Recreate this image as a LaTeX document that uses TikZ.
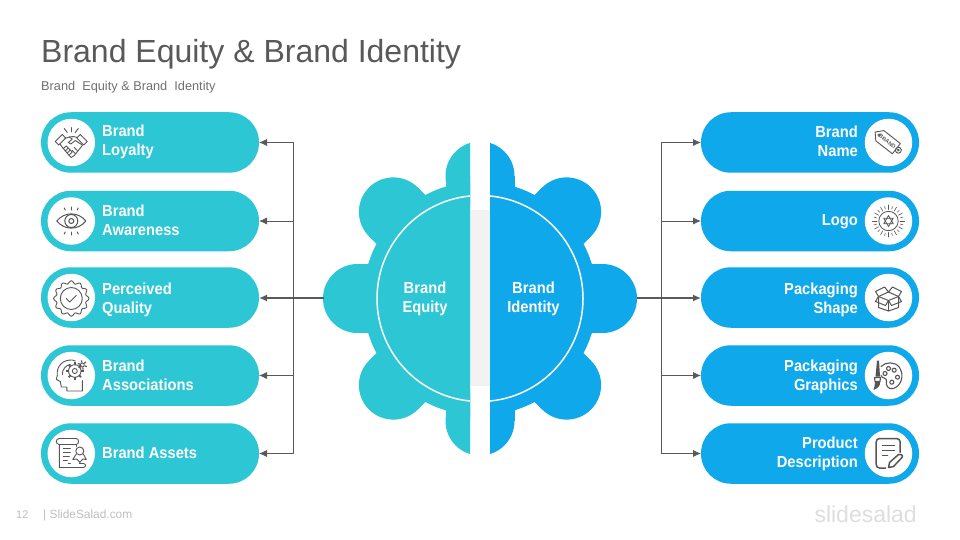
\documentclass[tikz,border=0pt]{standalone}
\usepackage{fontspec}
\setmainfont{Liberation Sans}
\newfontfamily\labfont{Liberation Sans}[FakeStretch=0.92]
\usetikzlibrary{arrows.meta}
\definecolor{teal1}{HTML}{2CC6D5}
\definecolor{blue1}{HTML}{0FA8EA}
\definecolor{ink}{HTML}{595959}
\definecolor{subink}{HTML}{707070}
\definecolor{icon}{HTML}{555555}
\definecolor{foot}{HTML}{BFBFBF}
\definecolor{logo}{HTML}{DEDEDE}
\tikzset{
  x=1pt,y=-1pt,
  pill/.style={rounded corners=30pt,minimum width=218pt,minimum height=60.5pt,inner sep=0pt,outer sep=0pt},
  tealpill/.style={pill,fill=teal1},
  bluepill/.style={pill,fill=blue1},
  disc/.style={circle,fill=white,minimum size=47.5pt,inner sep=0pt},
  lab/.style={text=white,font=\labfont\fontsize{16}{19}\selectfont\bfseries,inner sep=0pt},
  llab/.style={lab,anchor=west,align=left},
  rlab/.style={lab,anchor=east,align=right},
  clab/.style={lab,align=center},
  conn/.style={draw=ink,line width=.8pt},
  arr/.style={conn,-{Latex[length=8pt,width=7pt]}},
  ic/.style={draw=icon,line width=.9pt,line join=round,line cap=round,fill=none},
}
\newcommand{\gearshape}{%
  \fill (480,298.5) circle[radius=117];
  \foreach \a in {0,45,...,315}{
    \begin{scope}[shift={(480,298.5)},rotate=\a]
      \fill (122.5,0) circle[radius=34.5];
      \fill (95,-34.5) rectangle (122.5,34.5);
    \end{scope}}%
}
\begin{document}
\begin{tikzpicture}
\useasboundingbox (0,0) rectangle (960,540);
\fill[white] (0,0) rectangle (960,540);
% header
\node[anchor=base west,inner sep=0pt,text=ink,font=\fontsize{32}{36}\selectfont] (title) at (41,62.5) {Brand Equity \& Brand Identity};
\node[anchor=base west,inner sep=0pt,text=subink,font=\fontsize{12.75}{14}\selectfont] (sub) at (41,91) {Brand\ \ Equity \&\ Brand\ \ Identity};
% centre panel
\fill[black!5] (470,210) rectangle (490,386);
% gear
\begin{scope}
  \clip (300,120) rectangle (470,480);
  \begin{scope}[teal1,fill=teal1]\gearshape\end{scope}
  \draw[white,line width=1.5pt] (480,298.5) circle[radius=103];
\end{scope}
\begin{scope}
  \clip (490,120) rectangle (660,480);
  \begin{scope}[blue1,fill=blue1]\gearshape\end{scope}
  \draw[white,line width=1.5pt] (480,298.5) circle[radius=103];
\end{scope}
\coordinate (gl) at (323.5,298);
\coordinate (gr) at (636.5,298);
\coordinate (bl) at (293.5,298);
\coordinate (br) at (661,298);
\node[clab] (eq) at (425,298.4) {Brand\\Equity};
\node[clab] (id) at (533.5,298.4) {Brand\\Identity};
% pills
\foreach \n/\y in {1/142.5,2/221,3/297.5,4/375.5,5/453.5}{
  \node[tealpill] (L\n) at (150,\y) {};
  \node[bluepill] (R\n) at (810,\y) {};
  \node[disc] (LD\n) at (71.3,\y) {};
  \node[disc] (RD\n) at (888.5,\y) {};
}
% connectors
\draw[conn] (bl |- L1) -- (bl |- L5);
\draw[conn] (br |- R1) -- (br |- R5);
\foreach \n in {1,2,4,5}{
  \draw[arr] (bl |- L\n) -- (L\n.east);
  \draw[arr] (br |- R\n) -- (R\n.west);
}
\draw[arr,line width=1.5pt] (gl) -- (gl -| L3.east);
\draw[arr,line width=1.5pt] (gr) -- (gr -| R3.west);
% labels
\node[llab] (t1) at (102,142.3) {Brand\\Loyalty};
\node[llab] (t2) at (102,220.5) {Brand\\Awareness};
\node[llab] (t3) at (102,299.7) {Perceived\\Quality};
\node[llab] (t4) at (102,375.5) {Brand\\Associations};
\node[llab] (t5) at (102,452.7) {Brand Assets};
\node[rlab] (u1) at (858,141) {Brand\\Name};
\node[rlab] (u2) at (858,221.5) {Logo};
\node[rlab] (u3) at (858,300) {Packaging\\Shape};
\node[rlab] (u4) at (858,376.5) {Packaging\\Graphics};
\node[rlab] (u5) at (858,453.5) {Product\\Description};
% icon 1: handshake
\begin{scope}[shift={(71.3,142.5)},ic]
  \draw (-16,-1) -- (-9,-8) -- (-5.5,-4.5) -- (-12.5,2.5) -- cycle;
  \draw (16,-1) -- (9,-8) -- (5.5,-4.5) -- (12.5,2.5) -- cycle;
  \draw (-6.5,-4) -- (-2,-5.5) -- (1,-3.5) -- (-3,0) -- (-.5,1.5) -- (4,-2) -- (11,2.5);
  \draw (6,-5) -- (2,-6) -- (-2,-5.5);
  \draw (-11,2) -- (-8,6) -- (-3,12) -- (0,15) -- (3,13) -- (11,3);
  \draw (-8,6) -- (-5,3.5) -- (-3,5.5) -- (-6,8.5);
  \draw (-3,5.5) -- (-1,7.5) -- (-4,10.5);
  \draw (-1,7.5) -- (1,9.5) -- (-2,12.5);
  \draw (3,5) -- (6,8);\draw (1,8) -- (4,11);
  \draw (0,-15) -- (0,-10.5);
  \draw (-7,-14) -- (-4,-10);\draw (7,-14) -- (4,-10);
\end{scope}
% icon 2: eye
\begin{scope}[shift={(71.3,221)},ic,line width=1pt]
  \draw (-14.5,0) .. controls (-7,-9.5) and (7,-9.5) .. (14.5,0) .. controls (7,9.5) and (-7,9.5) .. (-14.5,0) -- cycle;
  \draw (0,0) circle[radius=6.5];
  \draw (0,0) circle[radius=2.5];
  \foreach \a/\b/\c/\d in {0/-14/0/-11,-7/-13/-6/-11,7/-13/6/-11,0/14/0/11,-7/13/-6/11,7/13/6/11}{\draw (\a,\b) -- (\c,\d);}
\end{scope}
% icon 3: quality badge
\begin{scope}[shift={(71.3,298.5)},ic]
  \draw plot[domain=0:360,samples=97,smooth] ({(16.3+1.4*cos(12*\x))*cos(\x)},{(16.3+1.4*cos(12*\x))*sin(\x)}) -- cycle;
  \draw (0,0) circle[radius=11];
  \draw (-5,0) -- (-1.5,3.5) -- (5,-3);
\end{scope}
% icon 4: head with gear
\begin{scope}[shift={(71.3,375.5)},ic]
  \draw (11,5) -- (11,15.5) -- (-4.5,15.5) -- (-4.5,11.5) -- (-10,11.5) -- (-11,6) -- (-15,4) -- (-14,0) .. controls (-15,-10) and (-8,-16) .. (1,-15.5) -- (4,-14.5);
  \draw (-1,-11) .. controls (-6,-10) and (-9,-6) .. (-9,-1);
  \draw (3.5,-4.5) circle[radius=2.5];
  \draw (3.5,-4.5) circle[radius=6.3];
  \foreach \a in {0,45,...,315}{\draw[line width=1.8pt,line cap=butt] (3.5,-4.5) ++(\a:6.3) -- ++(\a:2.5);}
  \draw (11,-10.5) circle[radius=2];
  \foreach \a in {20,80,140,200,260,320}{\draw[line width=1.2pt,line cap=butt] (11,-10.5) ++(\a:2.5) -- ++(\a:2.2);}
\end{scope}
% icon 5: scroll with ribbon
\begin{scope}[shift={(71.3,453.5)},ic]
  \draw (-12,-15) -- (5,-15) .. controls (8,-15) and (8,-9) .. (5,-9) -- (-12,-9);
  \draw (-12,-15) .. controls (-16,-15) and (-16,-9) .. (-12,-9) -- (-12,14) -- (12,14);
  \draw (5,-9) -- (5,-7);
  \draw (12,14) .. controls (15,14) and (15,10) .. (12,10) -- (8,10);
  \draw (-8,-5) -- (-1,-5);\draw (-8,-1) -- (-1,-1);\draw (-8,3) -- (-2,3);\draw (-8,7) -- (-4,7);
  \draw (-3,10) -- (-1,10);
  \draw (8.5,-2.5) circle[radius=4];
  \draw (5,.5) -- (1.5,6) -- (5.5,5.5) -- (8.5,9) -- (11.5,5.5) -- (15,6) -- (12,.5);
\end{scope}
% right icon 1: tag
\begin{scope}[shift={(888.5,142.5)},ic,rotate=-38]
  \draw (-17,0) -- (-11,-6.5) -- (10,-6.5) -- (10,6.5) -- (-11,6.5) -- cycle;
  \draw (-12,0) circle[radius=1.2];
  \node[draw=none,transform shape,font=\fontsize{5.5}{5.5}\selectfont\bfseries,text=icon,inner sep=0pt] (tagtxt) at (-1.5,0) {BRAND};
  \draw (12.5,0) circle[radius=3];
  \fill[icon] (12.5,0) circle[radius=1.5];
\end{scope}
% right icon 2: logo burst
\begin{scope}[shift={(888.5,221)},ic,line width=.8pt]
  \draw (0,0) circle[radius=9.7];
  \draw (0,-5.5) -- (4.8,2.8) -- (-4.8,2.8) -- cycle;
  \draw (0,5.5) -- (4.8,-2.8) -- (-4.8,-2.8) -- cycle;
  \foreach \a in {0,30,...,330}{\draw[line width=.6pt] (\a:11.5) -- (\a:16);}
  \foreach \a in {15,45,...,345}{\draw[line width=.6pt] (\a:12.5) -- (\a:15);}
\end{scope}
% right icon 3: box
\begin{scope}[shift={(888.5,298.5)},ic,line width=1pt]
  \draw (-10,-2) -- (0,2) -- (10,-2);
  \draw (-10,-2) -- (-10,9) -- (0,12.5) -- (10,9) -- (10,-2);
  \draw (0,2) -- (0,12.5);
  \draw (-10,-2) -- (-13,-7) -- (-4,-11.5) -- (0,-6.5) -- (4,-11.5) -- (13,-7) -- (10,-2);
  \draw (-10,-2) -- (-13,3) -- (-3,7) -- (0,2) -- (3,7) -- (13,3) -- (10,-2);
  \draw (-10,-2) -- (0,-6.5) -- (10,-2);
\end{scope}
% right icon 4: palette and brush
\begin{scope}[shift={(888.5,375.5)},ic,line width=1.1pt]
  \draw (-7.5,-9) .. controls (-3,-14) and (7,-14) .. (11,-8) .. controls (16,0) and (13,10) .. (5,13)
        .. controls (-1,14.5) and (-3,9) .. (-2,6) .. controls (-1,2) and (-7,3) .. (-7.5,0);
  \draw (0,-7) circle[radius=2];\draw (5.7,-5.3) circle[radius=2];\draw (9,1.7) circle[radius=2];
  \draw (3.3,6.7) circle[radius=2];\draw (-3.5,-2) circle[radius=2];
  \fill[icon] (-11.5,-15) -- (-9.5,-15) -- (-8.5,1) -- (-13,1) -- cycle;
  \draw (-14,2) -- (-8,2) -- (-8.5,6) -- (-13.5,6) -- cycle;
  \fill[icon] (-13.5,6) -- (-8.5,6) .. controls (-7.5,10) and (-11,13) .. (-15,14.5) .. controls (-13,12) and (-14.5,9) .. (-13.5,6) -- cycle;
\end{scope}
% right icon 5: document and pen
\begin{scope}[shift={(888.5,453.5)},ic,line width=1.5pt]
  \draw (-3,14.5) -- (-9,14.5) .. controls (-11,14.5) and (-12.3,13) .. (-12.3,11) -- (-12.3,-11.5) .. controls (-12.3,-13.5) and (-11,-15) .. (-9,-15) -- (8,-15) .. controls (10,-15) and (11.7,-13.5) .. (11.7,-11.5) -- (11.7,-1);
  \draw (-6,-8) -- (6,-8);\draw (-6,-3) -- (6,-3);\draw (-6,2) -- (-1,2);
  \draw (0,14) -- (1,9) -- (10,1) .. controls (12,-.5) and (15,2) .. (13.5,4) -- (5,13) -- cycle;
\end{scope}
% footer
\node[anchor=base west,inner sep=0pt,text=foot,font=\fontsize{11}{13}\selectfont] (pg) at (16,518) {12};
\node[anchor=base west,inner sep=0pt,text=foot,font=\fontsize{11.9}{13}\selectfont] (ft) at (43,518) {| SlideSalad.com};
\node[anchor=base east,inner sep=0pt,text=logo,font=\fontsize{23}{25}\selectfont] (lg) at (917,522) {slidesalad};
\end{tikzpicture}
\end{document}
